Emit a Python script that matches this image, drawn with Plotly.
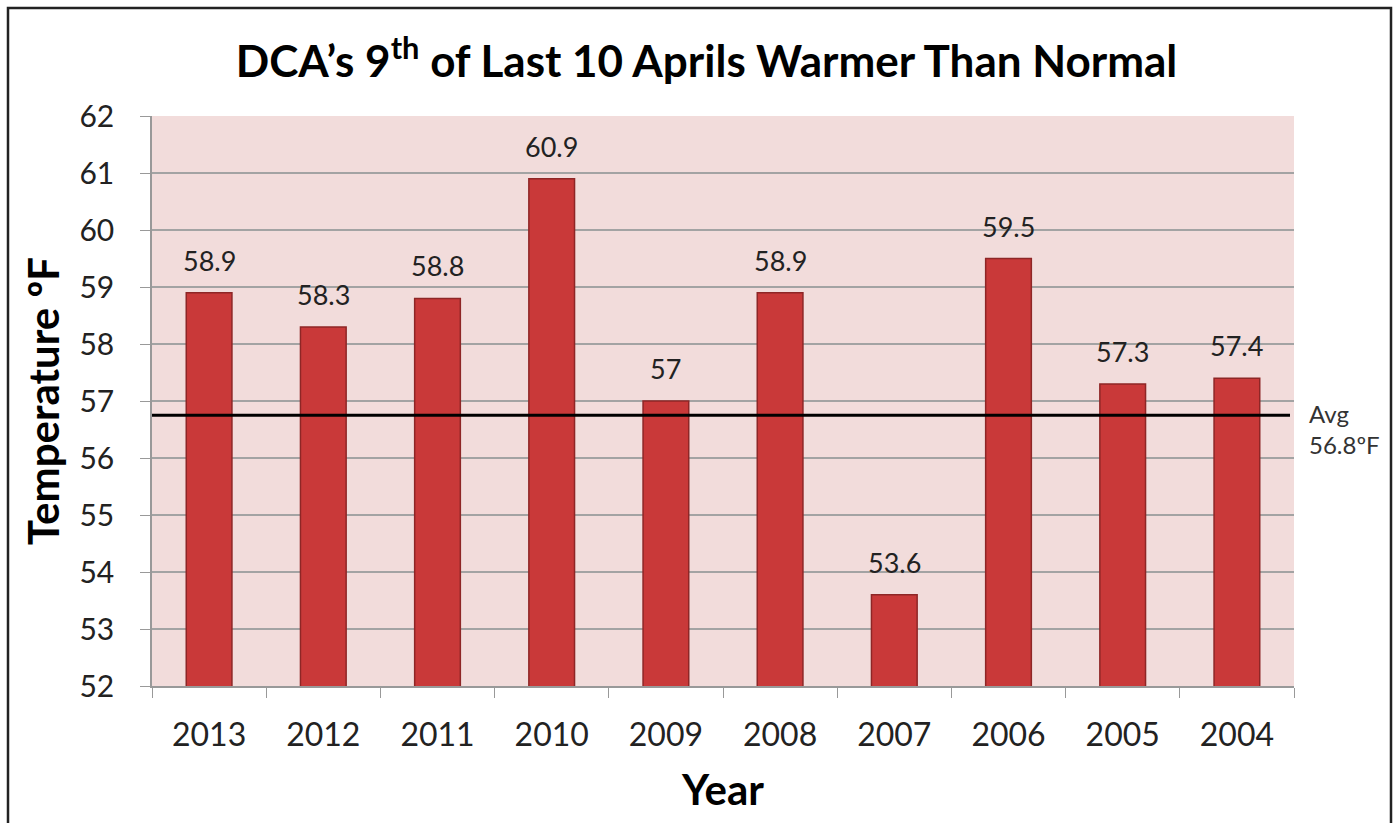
import plotly.graph_objects as go

years = ["2013", "2012", "2011", "2010", "2009", "2008", "2007", "2006", "2005", "2004"]
temps = [58.9, 58.3, 58.8, 60.9, 57.0, 58.9, 53.6, 59.5, 57.3, 57.4]
temp_labels = ["58.9", "58.3", "58.8", "60.9", "57", "58.9", "53.6", "59.5", "57.3", "57.4"]
avg_line = 56.75
avg_label = "Avg<br>56.8ºF"
y_ticks = [52, 53, 54, 55, 56, 57, 58, 59, 60, 61, 62]

W, H = 1394, 823
L, R, T, B = 152, 100, 116, 137
pw, ph = W - L - R, H - T - B

FONT = "Lato, 'Open Sans', sans-serif"

fig = go.Figure()
fig.add_trace(go.Bar(
    x=years, y=temps,
    marker=dict(color="#c93939", line=dict(color="#8e2626", width=1.5)),
    showlegend=False, hoverinfo="x+y",
))

# value labels: category axes position annotations by category index
for i, (v, lab) in enumerate(zip(temps, temp_labels)):
    fig.add_annotation(x=i, y=v, text=lab, showarrow=False, yanchor="bottom", yshift=14,
                       font=dict(size=27, color="#222", family=FONT))

fig.add_shape(type="line", xref="paper", yref="y", x0=0, x1=(1290 - L) / pw,
              y0=avg_line, y1=avg_line, line=dict(color="black", width=3), layer="above")
fig.add_annotation(xref="paper", yref="y", x=(1307 - L) / pw, y=avg_line, yshift=-14, text=avg_label,
                   showarrow=False, xanchor="left", yanchor="middle", align="left",
                   font=dict(size=24, color="#333", family=FONT))

# outer frame
fig.add_shape(type="rect", xref="paper", yref="paper",
              x0=(8 - L) / pw, x1=(1391 - L) / pw, y0=(H - B - 830) / ph, y1=(H - B - 8) / ph,
              line=dict(color="#222", width=2.5), layer="below")

fig.update_layout(
    width=W, height=H,
    margin=dict(l=L, r=R, t=T, b=B, autoexpand=False),
    paper_bgcolor="white", plot_bgcolor="#f2dcdb",
    bargap=0.6,
    title=dict(text="DCA’s 9<sup>th</sup> of Last 10 Aprils Warmer Than Normal",
               x=(233 + 1180) / 2 / W, xref="container", xanchor="center", y=1 - 62 / H, yanchor="middle",
               font=dict(size=44, color="black", family=FONT, weight="bold")),
    xaxis=dict(type="category", range=[-0.5, len(years) - 0.5], showgrid=False, showline=True,
               linecolor="#999", linewidth=1.5,
               ticks="outside", tickson="boundaries", ticklen=10, tickcolor="#999",
               ticklabelstandoff=20,
               tickfont=dict(size=32, color="#222", family=FONT), tickangle=0,
               title=dict(text="Year", font=dict(size=42, color="black", family=FONT, weight="bold"), standoff=23)),
    yaxis=dict(range=[52, 62], tickvals=y_ticks, showgrid=True, gridcolor="#a3a3a3", gridwidth=1.5,
               showline=True, linecolor="#999", linewidth=1.5,
               ticks="outside", ticklen=10, tickcolor="#999", zeroline=False,
               ticklabelstandoff=20,
               tickfont=dict(size=30, color="#222", family=FONT),
               title=dict(text="Temperature ºF", font=dict(size=42, color="black", family=FONT, weight="bold"), standoff=7)),
)

fig.write_html("out.html", config={"displayModeBar": False},
               post_script="document.body.style.margin='0';")
